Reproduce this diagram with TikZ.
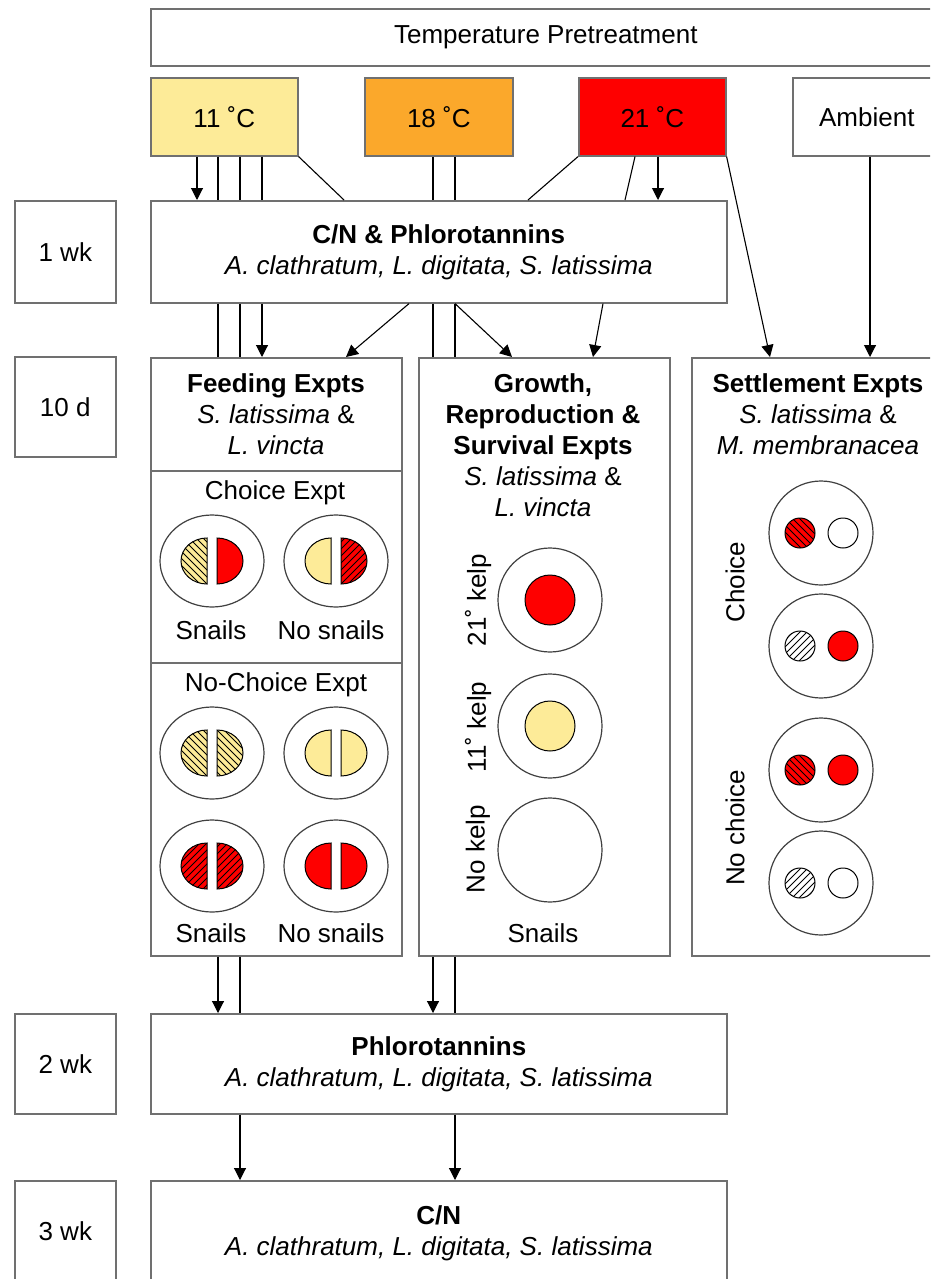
\documentclass[tikz,border=0pt]{standalone}
\usepackage{fontspec}
\setmainfont{Liberation Sans}
\usetikzlibrary{arrows.meta,calc}
\definecolor{kyellow}{HTML}{FDEB98}
\definecolor{korange}{HTML}{FBA82B}
\definecolor{kred}{HTML}{FE0000}
\definecolor{boxgray}{HTML}{707070}
\definecolor{dishgray}{HTML}{404040}

\newcommand\hatchlines[3]{% #1 cx, #2 cy, #3 dir (1 = \ , -1 = /)
  \foreach \k in {-84,-77,...,84}
    \draw[line width=0.9pt] ({#1+\k-45},{#2-45*(#3)}) -- ({#1+\k+45},{#2+45*(#3)});}

\newcommand\halfdisc[5]{% #1 cx, #2 cy, #3 side (-1 left, 1 right), #4 fill, #5 hatch dir (0 none)
  \fill[#4] ({#1+5*(#3)},{#2-23}) -- ({#1+5*(#3)},{#2+23}) arc[start angle=90,end angle={90-180*(#3)},x radius=26,y radius=23] -- cycle;
  \ifnum#5=0\else
  \begin{scope}
    \clip ({#1+5*(#3)},{#2-23}) -- ({#1+5*(#3)},{#2+23}) arc[start angle=90,end angle={90-180*(#3)},x radius=26,y radius=23] -- cycle;
    \hatchlines{#1}{#2}{#5}
  \end{scope}\fi
  \draw[part] ({#1+5*(#3)},{#2-23}) -- ({#1+5*(#3)},{#2+23}) arc[start angle=90,end angle={90-180*(#3)},x radius=26,y radius=23] -- cycle;}

\newcommand\fdish[6]{% cx cy leftfill lefthatch rightfill righthatch
  \draw[dish] (#1,#2) ellipse[x radius=52,y radius=46];
  \halfdisc{#1}{#2}{-1}{#3}{#4}
  \halfdisc{#1}{#2}{1}{#5}{#6}}

\newcommand\sdot[4]{% cx cy fill hatch
  \fill[#3] (#1,#2) circle[radius=15];
  \ifnum#4=0\else
  \begin{scope}
    \clip (#1,#2) circle[radius=15];
    \hatchlines{#1}{#2}{#4}
  \end{scope}\fi
  \draw[part] (#1,#2) circle[radius=15];}

\newcommand\sdish[6]{% cx cy leftfill lefthatch rightfill righthatch
  \draw[dish] (#1,#2) circle[radius=52];
  \sdot{#1-21}{#2}{#3}{#4}
  \sdot{#1+22}{#2}{#5}{#6}}

\begin{document}
\begin{tikzpicture}[x=1pt,y=-1pt,
  box/.style={draw=boxgray, line width=1.6pt, inner sep=0pt, anchor=north west, align=center, font=\fontsize{26}{31}\selectfont},
  lbl/.style={inner sep=0pt, align=center, font=\fontsize{26}{31}\selectfont},
  conn/.style={draw=black, line width=1.1pt},
  arr/.style={conn, -{Triangle[length=12pt,width=12pt]}},
  dish/.style={draw=dishgray, line width=1.2pt, fill=white},
  part/.style={draw=black, line width=1pt},
  sep/.style={draw=boxgray, line width=1.6pt},
]
\useasboundingbox (0,0) rectangle (930,1279);
\fill[white] (0,0) rectangle (930,1279);
\clip (0,0) rectangle (930,1279);

% boxes
\node[box, minimum width=790, minimum height=57] (tp) at (150,8) {Temperature Pretreatment};
\node[box, fill=kyellow, minimum width=147, minimum height=78] (t11) at (150,77) {11 ˚C};
\node[box, fill=korange, minimum width=148, minimum height=78] (t18) at (364,77) {18 ˚C};
\node[box, fill=kred, minimum width=147, minimum height=78] (t21) at (578,77) {21 ˚C};
\node[box, minimum width=148, minimum height=78] (amb) at (792,77) {Ambient};

\node[box, minimum width=101, minimum height=102] (w1) at (14,200) {1 wk};
\node[box, minimum width=576, minimum height=102] (cn1) at (150,200) {\textbf{C/N \& Phlorotannins}\\\textit{A. clathratum, L. digitata, S. latissima}};

\node[box, minimum width=101, minimum height=100] (d10) at (14,356) {10 d};
\node[box, minimum width=251, minimum height=598] (feed) at (150,357) {};
\node[box, minimum width=251, minimum height=598] (grow) at (418,357) {};
\node[box, minimum width=260, minimum height=598] (sett) at (691,357) {};

\node[box, minimum width=101, minimum height=100] (w2) at (14,1013) {2 wk};
\node[box, minimum width=576, minimum height=100] (ph) at (150,1013) {\textbf{Phlorotannins}\\\textit{A. clathratum, L. digitata, S. latissima}};
\node[box, minimum width=101, minimum height=100] (w3) at (14,1180) {3 wk};
\node[box, minimum width=576, minimum height=105] (cn3) at (150,1180) {\textbf{C/N}\\\textit{A. clathratum, L. digitata, S. latissima}};

% x positions of connectors
\foreach \n/\x in {a/197, b/218, c/240, d/262, e/344, f/433, g/455, h/409, i/346, j/512, k/603, l/593, m/528, n/635, o/625, p/658, q/770, r/870}
  \coordinate (x\n) at (\x,0);

% connectors
\draw[arr] (t11.south -| xa) -- (cn1.north -| xa);
\draw[conn] (t11.south -| xb) -- (cn1.north -| xb) (cn1.south -| xb) -- (feed.north -| xb);
\draw[arr] (feed.south -| xb) -- (ph.north -| xb);
\draw[conn] (t11.south -| xc) -- (cn1.north -| xc) (cn1.south -| xc) -- (feed.north -| xc) (feed.south -| xc) -- (ph.north -| xc);
\draw[arr] (ph.south -| xc) -- (cn3.north -| xc);
\draw[conn] (t11.south -| xd) -- (cn1.north -| xd);
\draw[arr] (cn1.south -| xd) -- (feed.north -| xd);
\draw[conn] (t11.south east) -- (cn1.north -| xe);

\draw[conn] (t18.south -| xf) -- (cn1.north -| xf) (cn1.south -| xf) -- (grow.north -| xf);
\draw[arr] (grow.south -| xf) -- (ph.north -| xf);
\draw[conn] (t18.south -| xg) -- (cn1.north -| xg) (cn1.south -| xg) -- (grow.north -| xg) (grow.south -| xg) -- (ph.north -| xg);
\draw[arr] (ph.south -| xg) -- (cn3.north -| xg);

\draw[arr] (cn1.south -| xh) -- (feed.north -| xi);
\draw[arr] (cn1.south -| xg) -- (grow.north -| xj);
\draw[arr] (cn1.south -| xk) -- (grow.north -| xl);

\draw[conn] (t21.south west) -- (cn1.north -| xm);
\draw[conn] (t21.south -| xn) -- (cn1.north -| xo);
\draw[arr] (t21.south -| xp) -- (cn1.north -| xp);
\draw[arr] (t21.south east) -- (sett.north -| xq);
\draw[arr] (amb.south -| xr) -- (sett.north -| xr);

% feeding experiments
\coordinate (ys1) at (0,471);
\coordinate (ys2) at (0,663);
\draw[sep] (feed.west |- ys1) -- (feed.east |- ys1);
\draw[sep] (feed.west |- ys2) -- (feed.east |- ys2);
\node[lbl] (feedT) at (276,414) {\textbf{Feeding Expts}\\\textit{S. latissima} \&\\\textit{L. vincta}};
\node[lbl] (choiceT) at (275,493) {Choice Expt};
\fdish{212}{561}{kyellow}{1}{kred}{0}
\fdish{336}{561}{kyellow}{0}{kred}{-1}
\node[lbl] (cs) at (211,630) {Snails};
\node[lbl] (cns) at (331,630) {No snails};
\node[lbl] (nchoiceT) at (276,685) {No-Choice Expt};
\fdish{212}{753}{kyellow}{1}{kyellow}{1}
\fdish{336}{753}{kyellow}{0}{kyellow}{0}
\fdish{212}{866}{kred}{-1}{kred}{-1}
\fdish{336}{866}{kred}{0}{kred}{0}
\node[lbl] (ns) at (211,933) {Snails};
\node[lbl] (nns) at (331,933) {No snails};

% growth experiments
\node[lbl] (growT) at (543,445) {\textbf{Growth,}\\\textbf{Reproduction \&}\\\textbf{Survival Expts}\\\textit{S. latissima} \&\\\textit{L. vincta}};
\draw[dish] (550,600) circle[radius=52];
\draw[part, fill=kred] (550,600) circle[radius=25];
\draw[dish] (550,726) circle[radius=52];
\draw[part, fill=kyellow] (550,726) circle[radius=25];
\draw[dish] (550,850) circle[radius=52];
\node[lbl, rotate=90] (k21) at (478,600) {21˚ kelp};
\node[lbl, rotate=90] (k11) at (478,727) {11˚ kelp};
\node[lbl, rotate=90] (k0) at (478,849) {No kelp};
\node[lbl] (gs) at (543,933) {Snails};

% settlement experiments
\node[lbl] (settT) at (818,414) {\textbf{Settlement Expts}\\\textit{S. latissima} \&\\\textit{M. membranacea}};
\sdish{821}{533}{kred}{1}{white}{0}
\sdish{821}{646}{white}{-1}{kred}{0}
\sdish{821}{770}{kred}{1}{kred}{0}
\sdish{821}{883}{white}{-1}{white}{0}
\node[lbl, rotate=90] (sc) at (735,582) {Choice};
\node[lbl, rotate=90] (snc) at (735,828) {No choice};
\end{tikzpicture}
\end{document}
